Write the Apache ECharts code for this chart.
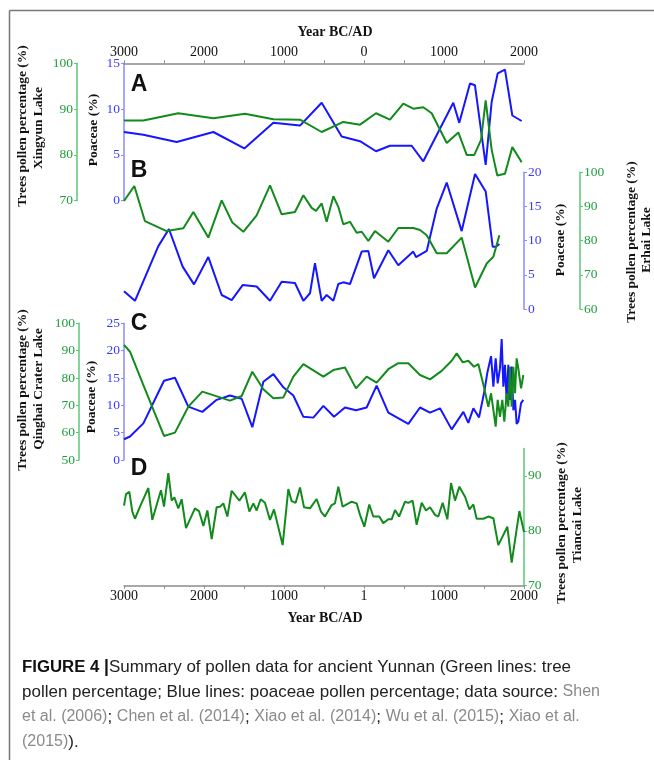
<!DOCTYPE html>
<html><head><meta charset="utf-8">
<script src="https://cdn.jsdelivr.net/npm/echarts@6/dist/echarts.min.js"></script>
<style>html,body{margin:0;padding:0;background:#fff}#c{width:654px;height:760px}</style>
</head><body><div id="c"></div>
<script>
// ---- Tick labels ----
const xTickValues = [-3000, -2000, -1000, 0, 1000, 2000];
const topTickLabels = ['3000', '2000', '1000', '0', '1000', '2000'];
const bottomTickLabels = ['3000', '2000', '1000', '1', '1000', '2000'];

// ---- Panel A: Xingyun Lake ----
const aPoaYears = [-3000,-2758,-2342,-1883,-1496,-1133,-800,-529,-279,-50,150,325,596,741,1116,1191,1325,1387,1521,1596,1671,1762,1854,1971];
const aPoaceae  = [7.5,7.2,6.4,7.5,5.7,8.5,8.2,10.7,7.0,6.5,5.4,6.0,6.0,4.3,10.7,8.5,12.8,12.6,3.9,10.8,13.9,14.3,9.3,8.7];
const aTreeYears = [-3000,-2758,-2321,-1883,-1488,-1133,-800,-529,-259,-50,150,325,491,616,741,846,1034,1179,1284,1379,1463,1521,1596,1666,1762,1854,1971];
const aTrees     = [87.5,87.5,89.1,88.0,89.0,87.8,87.7,85.0,87.2,86.6,89.1,87.7,91.2,90.1,90.4,89.1,82.6,84.9,80.0,80.0,83.3,91.9,81.1,75.5,75.9,81.7,78.4];

// ---- Panel B: Erhai Lake ----
const bTreeYears = [-3000,-2871,-2738,-2467,-2258,-2133,-1946,-1779,-1646,-1508,-1342,-1175,-1029,-863,-758,-654,-600,-529,-467,-383,-321,-259,-175,-92,-29,54,137,304,429,616,700,784,909,1034,1221,1388,1534,1617,1692];
const bTrees     = [91.6,96.0,85.7,82.8,83.6,88.4,80.9,91.8,85.3,82.6,87.4,96.2,87.7,88.4,93.3,89.6,88.7,90.9,85.5,93.0,89.9,84.8,85.5,82.3,82.6,79.9,82.8,79.7,83.7,83.7,83.1,81.6,76.3,76.3,80.9,66.3,73.3,75.3,81.6];
const bPoaYears = [-3000,-2863,-2571,-2438,-2267,-2125,-1946,-1779,-1654,-1517,-1342,-1175,-1029,-863,-758,-675,-613,-529,-467,-383,-321,-259,-175,-29,54,125,304,429,616,650,784,909,1034,1221,1388,1521,1609,1650,1692];
const bPoaceae  = [2.6,1.2,9.2,11.7,6.2,3.6,7.6,2.05,1.3,3.5,3.3,1.2,4.0,3.8,1.2,2.3,6.7,1.2,2.05,1.2,3.65,3.9,3.65,8.4,8.5,4.5,8.6,6.4,8.4,7.6,8.5,14.7,18.5,11.4,19.75,17.2,9.1,9.1,9.5];

// ---- Panel C: Qinghai Crater Lake ----
const cTreeYears = [-3000,-2925,-2758,-2500,-2363,-2196,-2021,-1675,-1529,-1396,-1258,-1133,-1008,-883,-758,-508,-383,-238,-100,33,158,304,429,554,700,825,971,1096,1159,1234,1304,1375,1429,1500,1554,1588,1617,1646,1671,1700,1729,1754,1783,1804,1825,1846,1867,1888,1908,1929,1963,1992];
const cTrees     = [92.1,89.6,77.4,58.8,60.0,69.5,75.0,71.7,73.4,82.3,75.9,72.6,72.9,80.5,85.1,80.5,82.9,83.8,76.2,80.5,78.3,83.2,85.4,85.4,81.1,79.5,82.6,86.3,89.0,85.7,86.3,84.1,85.1,76.6,69.5,74.4,68.3,62.2,72,65.8,72,64,74.4,69.5,84.1,69.5,84.1,74.4,87.2,83.5,76.2,81.1];
const cPoaYears = [-3000,-2925,-2758,-2500,-2363,-2196,-2021,-1842,-1675,-1529,-1396,-1258,-1133,-1008,-883,-758,-633,-508,-375,-238,-100,33,158,304,554,700,825,950,1096,1242,1304,1367,1438,1500,1541,1588,1617,1646,1671,1700,1721,1742,1762,1783,1804,1825,1846,1867,1888,1908,1929,1963,1992];
const cPoaceae  = [3.8,4.3,6.7,14.5,15.05,9.75,8.8,11.0,11.8,11.2,6.0,14.3,15.7,13.3,11.8,7.9,7.75,9.9,7.9,9.6,9.1,9.6,13.6,8.65,6.6,9.6,8.65,9.45,5.6,8.8,6.8,9.45,7.8,12.2,15.9,19.0,13.4,18.6,14.0,16.8,22.1,13.4,17.4,11.0,17.4,11.0,17.1,9.1,11.0,6.6,7.0,10.4,11.0];

// ---- Panel D: Tiancai Lake ----
const dTreeYears = [-3000,-2975,-2933,-2896,-2863,-2800,-2696,-2646,-2538,-2500,-2446,-2404,-2371,-2321,-2279,-2225,-2113,-2063,-2008,-1958,-1904,-1842,-1800,-1758,-1708,-1654,-1558,-1488,-1433,-1383,-1342,-1292,-1238,-1175,-1125,-1017,-946,-904,-854,-800,-750,-675,-592,-538,-488,-404,-363,-321,-267,-154,-92,-50,4,66,116,191,241,304,346,388,438,513,554,608,658,721,775,825,888,929,983,1042,1088,1138,1192,1263,1317,1367,1408,1492,1554,1617,1679,1792,1846,1942,2000];
const dTrees     = [84.6,86.7,87.1,83.5,82.2,84.4,87.8,82.0,87.4,84.4,90.5,85.5,86.1,84.1,85.75,80.5,84.1,83.6,80.9,83.7,78.5,84.3,84.4,85.0,82.6,87.3,85.5,87.0,83.5,85.0,83.7,85.75,85.1,82.0,83.9,77.4,87.6,85.4,85.1,87.9,84.3,84.1,85.8,83.5,82.6,84.7,85.0,88.05,84.4,85.3,85.0,82.9,80.75,84.8,82.6,82.6,81.4,82.1,82.1,83.8,82.6,85.3,85.1,85.5,81.1,85.1,83.7,84.3,82.9,82.6,85.1,82.1,88.7,85.5,88.05,86.2,83.9,84.8,82.2,82.2,82.6,82.3,77.4,80.75,74.2,83.6,79.8];

// ---- Styles ----
const GREEN = '#138a1c', BLUE = '#1616ff';
const GREEN_AX = '#5cc77a', BLUE_AX = '#8a8aff';
const GREEN_LB = '#1f9e3c', BLUE_LB = '#3a3aff';
const SERIF = '"Liberation Serif", "Times New Roman", serif';
const SANS = '"Liberation Sans", Arial, sans-serif';

function zip(xs, ys) { const n = Math.min(xs.length, ys.length); const o = []; for (let i = 0; i < n; i++) o.push([xs[i], ys[i]]); return o; }
function xLabelFormatter(labels) {
  return function (v) { const i = xTickValues.indexOf(v); return i >= 0 ? labels[i] : ''; };
}

const GRID_LEFT = 124, GRID_W = 400;
const grids = [
  { left: GRID_LEFT, width: GRID_W, top: 63.3, height: 137.4 },
  { left: GRID_LEFT, width: GRID_W, top: 172.3, height: 136.7 },
  { left: GRID_LEFT, width: GRID_W, top: 323.3, height: 136.7 },
  { left: GRID_LEFT, width: GRID_W, top: 448.5, height: 137.2 }
];

function xAxisFor(gi, show, pos, labels) {
  return {
    type: 'value', gridIndex: gi, min: -3000, max: 2000, interval: 500, show: show, position: pos,
    axisLine: { show: true, onZero: false, lineStyle: { color: '#8c8c8c', width: 1.5 } },
    axisTick: { show: true, length: 3, lineStyle: { color: '#8c8c8c', width: 1 } },
    axisLabel: { show: true, formatter: labels ? xLabelFormatter(labels) : '', fontFamily: SERIF, fontSize: 14, color: '#111', margin: 4 },
    splitLine: { show: false }
  };
}
function yAxisFor(gi, pos, offset, min, max, interval, axColor, lbColor, custom) {
  const ax = {
    type: 'value', gridIndex: gi, position: pos, offset: offset, min: min, max: max, interval: interval,
    axisLine: { show: true, onZero: false, lineStyle: { color: axColor, width: 1.5 } },
    axisTick: { show: true, length: 3, lineStyle: { color: axColor, width: 1 } },
    axisLabel: { fontFamily: SERIF, fontSize: 13.5, color: lbColor, margin: 4 },
    splitLine: { show: false }
  };
  if (custom) { ax.axisTick.customValues = custom; ax.axisLabel.customValues = custom; }
  return ax;
}

const xAxes = [
  xAxisFor(0, true, 'top', topTickLabels),
  xAxisFor(1, false, 'bottom', null),
  xAxisFor(2, false, 'bottom', null),
  xAxisFor(3, true, 'bottom', bottomTickLabels)
];
const yAxes = [
  yAxisFor(0, 'left', 0, 0, 15, 5, BLUE_AX, BLUE_LB),        // 0 A poaceae
  yAxisFor(0, 'left', 47, 70, 100, 10, GREEN_AX, GREEN_LB),  // 1 A trees
  yAxisFor(1, 'right', 0, 0, 20, 5, BLUE_AX, BLUE_LB),       // 2 B poaceae
  yAxisFor(1, 'right', 56, 60, 100, 10, GREEN_AX, GREEN_LB), // 3 B trees
  yAxisFor(2, 'left', 0, 0, 25, 5, BLUE_AX, BLUE_LB),        // 4 C poaceae
  yAxisFor(2, 'left', 45, 50, 100, 10, GREEN_AX, GREEN_LB),  // 5 C trees
  yAxisFor(3, 'right', 0, 70, 95, 10, GREEN_AX, GREEN_LB, [70, 80, 90]) // 6 D trees
];

function lineSeries(xi, yi, data, color) {
  return { type: 'line', xAxisIndex: xi, yAxisIndex: yi, data: data, showSymbol: false, symbol: 'none',
    lineStyle: { color: color, width: 2 }, itemStyle: { color: color }, animation: false, clip: false };
}
const series = [
  lineSeries(0, 0, zip(aPoaYears, aPoaceae), BLUE),
  lineSeries(0, 1, zip(aTreeYears, aTrees), GREEN),
  lineSeries(1, 2, zip(bPoaYears, bPoaceae), BLUE),
  lineSeries(1, 3, zip(bTreeYears, bTrees), GREEN),
  lineSeries(2, 4, zip(cPoaYears, cPoaceae), BLUE),
  lineSeries(2, 5, zip(cTreeYears, cTrees), GREEN),
  lineSeries(3, 6, zip(dTreeYears, dTrees), GREEN)
];

function vText(x, y, text) {
  return { type: 'text', x: x, y: y, rotation: Math.PI / 2, silent: true,
    style: { text: text, fontFamily: SERIF, fontWeight: 'bold', fontSize: 13.5, fill: '#111', align: 'center', verticalAlign: 'middle' } };
}
function hText(x, y, text, font, size, weight) {
  return { type: 'text', x: x, y: y, silent: true,
    style: { text: text, fontFamily: font, fontWeight: weight, fontSize: size, fill: '#111', align: 'center', verticalAlign: 'middle' } };
}
const capRich = {
  b: { fontFamily: SANS, fontWeight: 'bold', fontSize: 16.8, fill: '#111' },
  bar: { fontFamily: SANS, fontWeight: 'bold', fontSize: 17.5, fill: '#111' },
  n: { fontFamily: SANS, fontSize: 17.0, fill: '#222' },
  g: { fontFamily: SANS, fontSize: 16.0, fill: '#8a8a8a' }
};
function capLine(y, text) {
  return { type: 'text', x: 22, y: y, silent: true,
    style: { text: text, rich: capRich, align: 'left', verticalAlign: 'middle', fontSize: 16.5, fontFamily: SANS } };
}

const graphics = [
  { type: 'line', silent: true, shape: { x1: 9.5, y1: 10.5, x2: 654, y2: 10.5 }, style: { stroke: '#777', lineWidth: 1.5 } },
  { type: 'line', silent: true, shape: { x1: 9.5, y1: 10.5, x2: 9.5, y2: 760 }, style: { stroke: '#777', lineWidth: 1.5 } },
  hText(335, 32, 'Year BC/AD', SERIF, 14, 'bold'),
  hText(325, 618, 'Year BC/AD', SERIF, 14, 'bold'),
  hText(139, 85, 'A', SANS, 23, 'bold'),
  hText(139, 171, 'B', SANS, 23, 'bold'),
  hText(139, 324, 'C', SANS, 23, 'bold'),
  hText(139, 469, 'D', SANS, 23, 'bold'),
  vText(22.5, 126, 'Trees pollen percentage (%)'),
  vText(39, 128, 'Xingyun Lake'),
  vText(94, 130, 'Poaceae (%)'),
  vText(561, 240, 'Poaceae (%)'),
  vText(632, 242, 'Trees pollen percentage (%)'),
  vText(647, 240, 'Erhai Lake'),
  vText(22.5, 390, 'Trees pollen percentage (%)'),
  vText(38.5, 389, 'Qinghai Crater Lake'),
  vText(91.5, 397, 'Poaceae (%)'),
  vText(562, 523, 'Trees pollen percentage (%)'),
  vText(578, 525, 'Tiancai Lake'),
  capLine(667, '{b|FIGURE 4 }{bar||}{n|Summary of pollen data for ancient Yunnan (Green lines: tree}'),
  capLine(692, '{n|pollen percentage; Blue lines: poaceae pollen percentage; data source: }{g|Shen}'),
  capLine(717, '{g|et al. (2006)}{n|; }{g|Chen et al. (2014)}{n|; }{g|Xiao et al. (2014)}{n|; }{g|Wu et al. (2015)}{n|; }{g|Xiao et al.}'),
  capLine(742, '{g|(2015)}{n|).}')
];

const chart = echarts.init(document.getElementById('c'), null, { renderer: 'canvas' });
chart.setOption({
  animation: false,
  backgroundColor: '#fff',
  grid: grids,
  xAxis: xAxes,
  yAxis: yAxes,
  series: series,
  graphic: graphics
});
</script>
</body></html>
